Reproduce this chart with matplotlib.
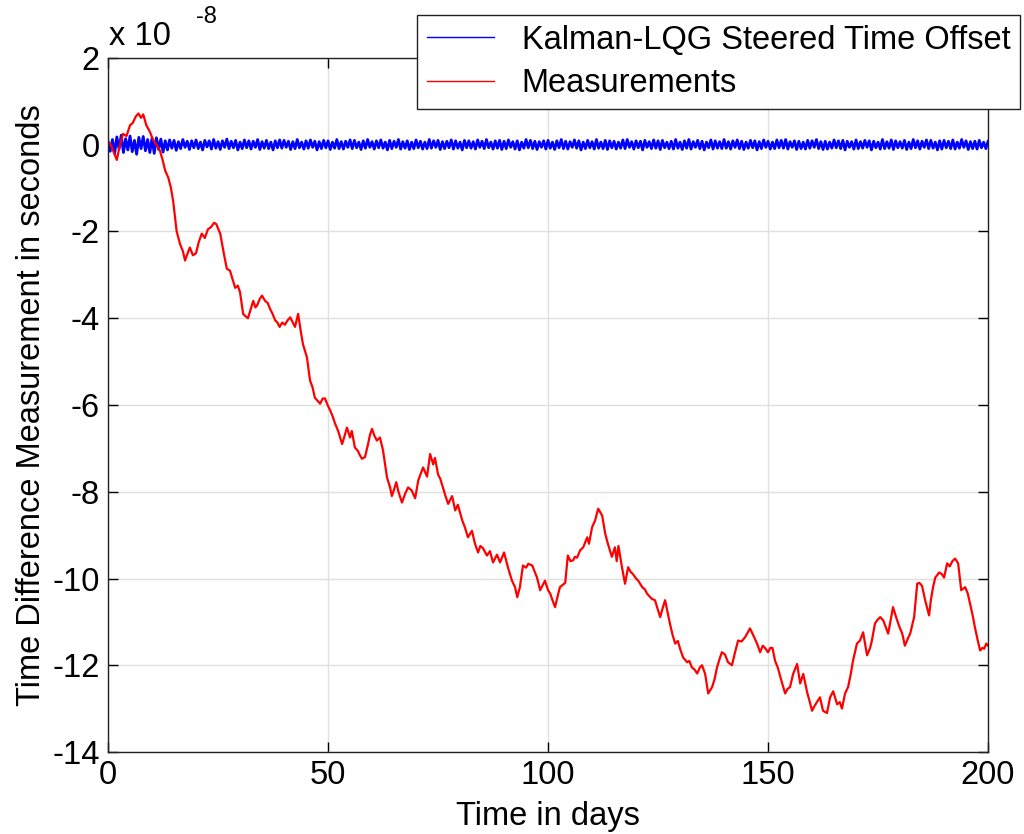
import numpy as np
import matplotlib
matplotlib.use("Agg")
import matplotlib.pyplot as plt

plt.rcParams['font.family'] = ['Liberation Sans', 'DejaVu Sans']

# Measured time difference (units of 1e-8 s) against time in days
meas_days = [
    0, 0.5, 1.2, 2.0, 2.6, 3.4, 4.2, 5.0, 5.6, 6.3, 6.9, 7.5, 8.0, 8.7, 9.5, 10.2, 11.0, 11.8, 12.4, 13.0,
    13.7, 14.3, 14.8, 15.6, 16.4, 17.0, 17.5, 18.1, 18.6, 19.3, 20.0, 20.6, 21.3, 22.0, 22.7, 23.4, 24.1, 24.6, 25.1, 25.5,
    26.3, 27.0, 27.7, 28.3, 28.9, 29.5, 30.0, 30.7, 31.2, 31.8, 32.4, 33.0, 33.5, 33.9, 34.5, 35.0, 35.7, 36.3, 36.8, 37.4,
    38.0, 38.5, 39.0, 39.6, 40.2, 40.8, 41.4, 42.0, 42.5, 43.2, 43.8, 44.3, 45.2, 45.9, 46.5, 47.0, 47.6, 48.2, 48.8, 49.3,
    49.9, 50.5, 51.0, 51.6, 52.3, 53.2, 53.8, 54.3, 55.0, 55.4, 56.1, 56.8, 57.2, 57.7, 58.4, 59.1, 59.5, 60.0, 60.5, 61.1,
    61.8, 62.5, 63.0, 63.4, 64.1, 64.5, 65.0, 65.5, 66.0, 66.8, 67.5, 68.2, 69.0, 69.8, 70.5, 71.0, 71.6, 72.5, 73.2, 73.9,
    74.3, 75.0, 75.5, 76.1, 76.7, 77.3, 78.2, 78.9, 79.5, 80.5, 81.1, 81.8, 82.7, 83.4, 84.1, 84.6, 85.2, 86.1, 86.8, 87.5,
    88.4, 89.1, 90.0, 90.9, 91.8, 92.5, 93.0, 93.6, 94.3, 95.0, 95.5, 96.4, 97.0, 97.5, 98.2, 98.8, 99.3, 100.0, 100.5, 101.0,
    101.6, 102.2, 102.7, 103.3, 103.9, 104.5, 105.1, 105.7, 106.1, 106.6, 107.3, 108.0, 108.5, 108.9, 109.3, 110.0, 110.7, 111.4, 112.3, 113.0,
    113.6, 114.5, 115.2, 115.6, 116.0, 116.8, 117.5, 118.2, 118.8, 119.3, 120.0, 120.5, 121.4, 122.0, 122.5, 123.6, 124.3, 124.9, 125.5, 126.0,
    126.6, 127.2, 127.7, 128.3, 128.9, 129.5, 130.1, 130.7, 131.6, 132.1, 132.7, 133.3, 133.9, 134.5, 135.0, 135.7, 136.4, 137.3, 137.9, 138.4,
    139.0, 139.5, 140.2, 140.9, 141.8, 142.5, 143.2, 144.0, 144.8, 145.9, 146.6, 147.5, 148.2, 148.8, 149.3, 150.0, 150.5, 151.0, 151.6, 152.2,
    152.7, 153.3, 153.9, 154.4, 155.0, 155.7, 156.6, 157.3, 158.0, 158.9, 159.5, 160.0, 160.5, 161.1, 161.8, 162.5, 163.4, 164.1, 164.8, 165.7,
    166.3, 166.8, 167.5, 168.2, 168.8, 169.3, 170.2, 170.9, 171.6, 172.5, 173.2, 173.6, 174.3, 174.8, 175.5, 176.2, 177.3, 178.4, 179.1, 179.8,
    180.5, 181.1, 181.7, 182.3, 183.2, 183.9, 184.4, 185.0, 185.7, 186.2, 186.6, 187.0, 187.5, 188.0, 188.9, 189.5, 190.0, 190.7, 191.3, 191.9,
    192.5, 193.2, 193.9, 194.8, 195.4, 195.9, 196.5, 197.0, 197.6, 198.2, 198.7, 199.1, 199.6, 200.0,
]
meas_vals = [
    0.05, 0.03, -0.15, -0.35, -0.05, 0.25, 0.2, 0.45, 0.5, 0.65, 0.72, 0.62, 0.7, 0.45, 0.3, 0.12, 0.0, -0.14, -0.35, -0.6,
    -0.76, -1.0, -1.3, -2.0, -2.3, -2.45, -2.67, -2.5, -2.37, -2.55, -2.5, -2.25, -2.05, -2.15, -1.95, -1.9, -1.8, -1.83, -1.95, -2.05,
    -2.5, -2.86, -2.9, -3.1, -3.3, -3.25, -3.4, -3.9, -3.95, -4.0, -3.8, -3.6, -3.75, -3.7, -3.55, -3.48, -3.6, -3.65, -3.78, -3.9,
    -4.05, -4.1, -4.2, -4.1, -4.15, -4.05, -3.98, -4.1, -4.2, -3.9, -4.3, -4.6, -4.9, -5.43, -5.6, -5.83, -5.9, -5.97, -5.85, -5.85,
    -6.0, -6.13, -6.25, -6.43, -6.6, -6.9, -6.7, -6.52, -6.75, -6.6, -6.98, -7.06, -7.15, -7.24, -7.2, -6.9, -6.7, -6.55, -6.7, -6.82,
    -6.75, -7.05, -7.4, -7.67, -7.9, -8.1, -7.95, -7.78, -8.0, -8.25, -8.05, -7.9, -7.97, -8.15, -7.74, -7.6, -7.44, -7.65, -7.13, -7.37,
    -7.22, -7.6, -7.7, -7.9, -8.1, -8.28, -8.1, -8.43, -8.3, -8.66, -8.82, -9.05, -8.9, -9.2, -9.4, -9.25, -9.3, -9.47, -9.37, -9.63,
    -9.45, -9.63, -9.4, -9.75, -10.05, -10.2, -10.43, -10.2, -9.7, -9.75, -9.66, -9.7, -9.85, -9.98, -10.27, -10.15, -10.05, -10.27, -10.35, -10.5,
    -10.66, -10.4, -10.2, -10.15, -10.1, -9.47, -9.6, -9.58, -9.5, -9.52, -9.35, -9.28, -9.15, -9.05, -9.2, -8.82, -8.66, -8.39, -8.55, -8.97,
    -9.2, -9.5, -9.28, -9.6, -9.25, -9.74, -10.12, -9.74, -9.85, -9.9, -10.0, -10.05, -10.2, -10.25, -10.35, -10.47, -10.5, -10.7, -10.89, -10.7,
    -10.5, -10.8, -11.04, -11.3, -11.5, -11.44, -11.65, -11.82, -11.93, -11.9, -12.05, -12.1, -12.19, -12.05, -12.0, -12.2, -12.65, -12.5, -12.3, -12.05,
    -11.85, -11.7, -11.75, -11.93, -12.0, -11.7, -11.43, -11.45, -11.35, -11.15, -11.3, -11.5, -11.7, -11.55, -11.6, -11.7, -11.6, -11.6, -11.9, -12.05,
    -12.23, -12.45, -12.65, -12.55, -12.5, -12.2, -11.97, -12.42, -12.2, -12.63, -12.85, -13.05, -12.95, -12.85, -12.74, -13.05, -13.1, -12.74, -12.6, -12.9,
    -12.85, -13.0, -12.65, -12.5, -12.2, -11.9, -11.5, -11.43, -11.24, -11.77, -11.6, -11.43, -11.04, -10.96, -10.89, -10.97, -11.27, -10.66, -10.89, -11.1,
    -11.27, -11.55, -11.4, -11.27, -10.89, -10.12, -10.1, -10.17, -10.5, -10.7, -10.85, -10.5, -10.2, -9.98, -9.86, -9.9, -9.98, -9.65, -9.72, -9.6,
    -9.54, -9.65, -10.27, -10.2, -10.35, -10.58, -10.85, -11.12, -11.4, -11.66, -11.6, -11.62, -11.5, -11.55,
]

# Steered time offset, sampled every half day (units of 1e-10 s)
steer_step = 0.5
steer_raw = [
    8, -15, 12, -20, 18, -10, 22, -18, 14, -12, 20, -16, 10, -22, 17, -9, 19, -14, 12, -18,
    15, -20, 16, -11, 13, -17, 9, -12, 11, -8, 10, -13, 7, -9, 12, -6, 8, -11, 9, -7,
    11, -9, 6, -12, 10, -5, 9, -10, 12, -8, 7, -11, 9, -6, 13, -9, 8, -7, 10, -12,
    6, -9, 11, -7, 9, -10, 8, -6, 12, -11, 7, -8, 10, -9, 6, -12, 9, -7, 11, -8,
    10, -6, 8, -11, 7, -9, 12, -7, 6, -10, 9, -8, 11, -6, 8, -12, 7, -9, 10, -7,
    9, -11, 6, -8, 12, -9, 7, -10, 8, -6, 11, -9, 10, -7, 6, -11, 9, -8, 12, -6,
    7, -10, 9, -7, 11, -8, 6, -12, 10, -9, 8, -6, 12, -10, 7, -8, 9, -11, 6, -9,
    11, -7, 8, -10, 6, -9, 12, -8, 9, -6, 10, -11, 7, -9, 8, -7, 11, -10, 9, -8,
    6, -12, 10, -7, 9, -8, 7, -10, 11, -6, 8, -9, 12, -7, 6, -10, 9, -8, 10, -11,
    8, -9, 11, -6, 7, -10, 9, -12, 6, -8, 12, -7, 10, -9, 8, -11, 7, -6, 9, -10,
    10, -8, 6, -11, 9, -7, 12, -9, 8, -10, 7, -6, 11, -8, 9, -12, 6, -9, 10, -7,
    7, -10, 12, -8, 6, -9, 10, -11, 9, -7, 8, -10, 6, -8, 11, -9, 12, -6, 7, -10,
    9, -7, 8, -12, 10, -6, 7, -9, 11, -8, 9, -11, 10, -7, 6, -9, 8, -10, 12, -8,
    6, -11, 9, -8, 12, -10, 7, -6, 10, -9, 8, -12, 6, -7, 11, -10, 9, -8, 7, -9,
    12, -8, 7, -10, 9, -6, 11, -9, 8, -11, 6, -8, 10, -7, 9, -12, 7, -9, 11, -6,
    8, -10, 6, -9, 11, -7, 10, -8, 12, -10, 7, -6, 9, -11, 8, -9, 6, -10, 10, -8,
    9, -6, 12, -9, 7, -11, 8, -10, 6, -8, 11, -7, 9, -9, 10, -12, 8, -6, 7, -10,
    11, -9, 7, -8, 10, -6, 9, -12, 8, -7, 6, -10, 12, -9, 7, -8, 11, -11, 9, -7,
    7, -8, 10, -11, 6, -9, 12, -7, 9, -10, 8, -6, 11, -9, 10, -8, 6, -12, 9, -10,
    10, -7, 8, -9, 11, -10, 6, -8, 12, -6, 9, -11, 7, -9, 8, -10, 10, -7, 6, -9,
    8,
]
steer_vals = np.array(steer_raw) / 100.0
steer_days = np.arange(len(steer_vals)) * steer_step

yticks = list(range(-14, 3, 2))
xticks = [0, 50, 100, 150, 200]

FS = 23.5

fig = plt.figure(figsize=(10.24, 8.34), dpi=100)
ax = fig.add_axes([0.1055, 0.0983, 0.8594, 0.8322])

ax.plot(steer_days, steer_vals, color='#0000ff', lw=2.0, label='Kalman-LQG Steered Time Offset')
ax.plot(meas_days, meas_vals, color='#ff0000', lw=1.6, label='Measurements')

ax.set_xlim(0, 200)
ax.set_ylim(-14, 2)
ax.set_xticks(xticks)
ax.set_yticks(yticks)
ax.set_yticklabels([str(t) for t in yticks])
ax.grid(True, color='#e0e0e0', lw=1)
ax.set_axisbelow(True)
ax.tick_params(direction='in', length=7, width=1, labelsize=FS, top=True, right=True, pad=6)
for s in ax.spines.values():
    s.set_linewidth(1)
    s.set_color('#222222')

ax.set_xlabel('Time in days', fontsize=FS, labelpad=7)
ax.set_ylabel('Time Difference Measurement in seconds', fontsize=FS, labelpad=4)

# exponent label above the y axis
fig.text(109 / 1024, 1 - 45 / 834, 'x 10', fontsize=FS, ha='left', va='baseline')
fig.text(196 / 1024, 1 - 23 / 834, '-8', fontsize=17, ha='left', va='baseline')

leg = fig.legend(loc='upper right', bbox_to_anchor=(1020 / 1024, 1 - 15 / 834),
                 fontsize=FS, frameon=True, fancybox=False, handlelength=2.05,
                 handletextpad=0.85, labelspacing=0.38, borderpad=0.3, borderaxespad=0)
leg.get_frame().set_edgecolor('#222222')
leg.get_frame().set_linewidth(1)
leg.get_frame().set_alpha(1)
for line in leg.get_lines():
    line.set_linewidth(1)

fig.savefig('out.png', dpi=100)
